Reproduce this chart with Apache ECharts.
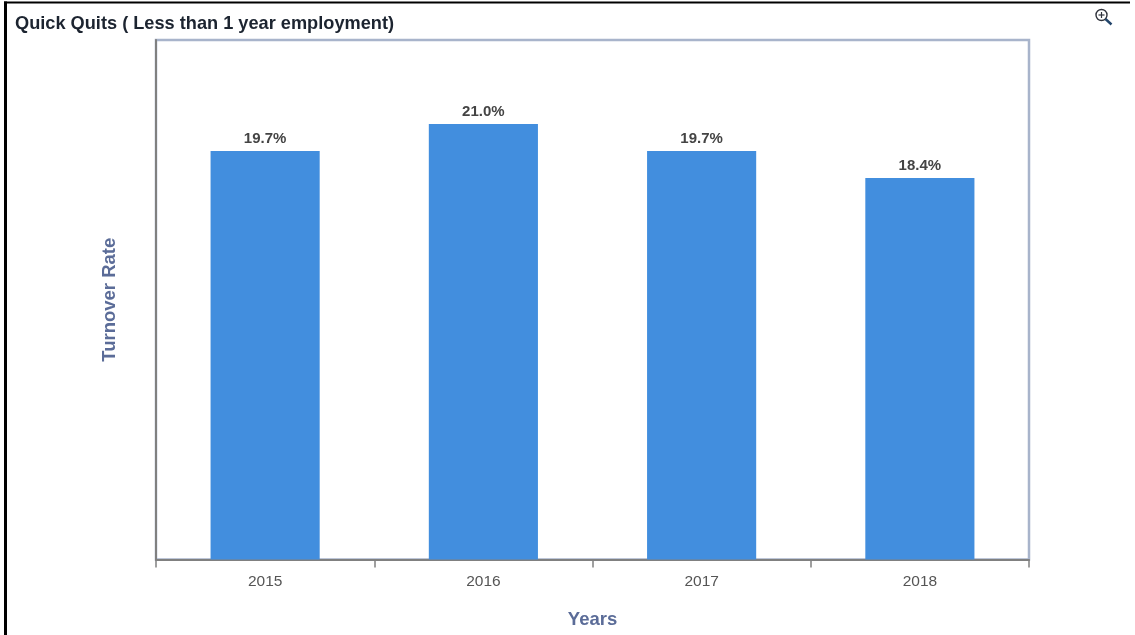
<!DOCTYPE html>
<html>
<head>
<meta charset="utf-8">
<style>html,body{margin:0;padding:0;background:#fff}#chart{width:1135px;height:635px}</style>
<script src="https://cdn.jsdelivr.net/npm/echarts@6/dist/echarts.min.js"></script>
</head>
<body>
<div id="chart"></div>
<script>
const years = ['2015', '2016', '2017', '2018'];
const turnoverRates = [19.7, 21.0, 19.7, 18.4];
const titleText = 'Quick Quits ( Less than 1 year employment)';
const yAxisTitle = 'Turnover Rate';
const xAxisTitle = 'Years';

const font = '"Liberation Sans", Arial, sans-serif';
const chart = echarts.init(document.getElementById('chart'), null, { renderer: 'canvas' });

chart.setOption({
  animation: false,
  backgroundColor: '#ffffff',
  title: {
    text: titleText,
    left: 15,
    top: 15,
    padding: 0,
    textStyle: { fontFamily: font, fontSize: 18.2, fontWeight: 'bold', color: '#1c2430' }
  },
  grid: {
    left: 156,
    right: 106,
    top: 40,
    bottom: 75.5,
    show: true,
    backgroundColor: '#ffffff',
    borderColor: '#a8b4cb',
    borderWidth: 2.5
  },
  xAxis: {
    type: 'category',
    data: years,
    name: xAxisTitle,
    nameLocation: 'middle',
    nameGap: 51,
    nameTextStyle: { fontFamily: font, fontSize: 18.5, fontWeight: 'bold', color: '#5b6c98' },
    axisLine: { show: true, lineStyle: { color: '#808080', width: 2 } },
    axisTick: { show: true, alignWithLabel: false, length: 8, lineStyle: { color: '#808080', width: 1.5 } },
    axisLabel: { fontFamily: font, fontSize: 15.5, color: '#555555', margin: 14 }
  },
  yAxis: {
    type: 'value',
    min: 0,
    max: 25.05,
    name: yAxisTitle,
    nameLocation: 'middle',
    nameGap: 37,
    nameTextStyle: { fontFamily: font, fontSize: 18.5, fontWeight: 'bold', color: '#5b6c98' },
    axisLine: { show: true, lineStyle: { color: '#808080', width: 2 } },
    axisTick: { show: false },
    axisLabel: { show: false },
    splitLine: { show: false }
  },
  series: [{
    type: 'bar',
    data: turnoverRates,
    barWidth: '50%',
    itemStyle: { color: '#428ede' },
    label: {
      show: true,
      position: 'top',
      distance: 5,
      formatter: p => p.value.toFixed(1) + '%',
      fontFamily: font,
      fontSize: 15,
      fontWeight: 'bold',
      color: '#444444'
    }
  }],
  graphic: [
    // Outer frame: top and left edges of the surrounding panel
    { type: 'rect', shape: { x: 4, y: 1.5, width: 1126, height: 2 }, style: { fill: '#000000' } },
    { type: 'rect', shape: { x: 4, y: 1.5, width: 3, height: 634 }, style: { fill: '#000000' } },
    // Zoom-in magnifier icon
    { type: 'circle', shape: { cx: 1101.5, cy: 15, r: 5.5 }, style: { fill: '#ffffff', stroke: '#30333c', lineWidth: 1.4 } },
    { type: 'line', shape: { x1: 1105.5, y1: 19, x2: 1111.5, y2: 24.5 }, style: { stroke: '#23456b', lineWidth: 2.4 } },
    { type: 'line', shape: { x1: 1098.5, y1: 15, x2: 1104.5, y2: 15 }, style: { stroke: '#30333c', lineWidth: 1.2 } },
    { type: 'line', shape: { x1: 1101.5, y1: 12, x2: 1101.5, y2: 18 }, style: { stroke: '#30333c', lineWidth: 1.2 } }
  ]
});
</script>
</body>
</html>
